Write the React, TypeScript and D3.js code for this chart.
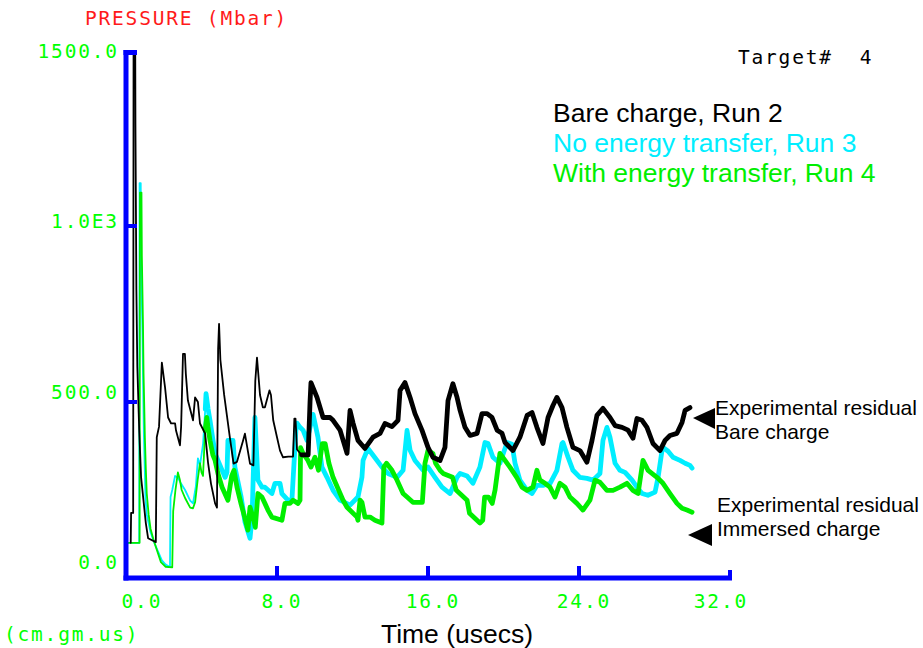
import React from 'react';
import * as d3 from 'd3';

// ---- data ----
const xTicks = [0, 8, 16, 24, 32];
const xTickLabels = ['0.0', '8.0', '16.0', '24.0', '32.0'];
const yTicks = [0, 500, 1000, 1500];
const yTickLabels = ['0.0', '500.0', '1.0E3', '1500.0'];
const legendLabels = ['Bare charge, Run 2', 'No energy transfer, Run 3', 'With energy transfer, Run 4'];
const annotationLines = [
  ['Experimental residual', 'Bare charge'],
  ['Experimental residual', 'Immersed charge'],
];

// [time (usecs), pressure (Mbar)]
const bareRun2: [number, number][] = [
  [0.25,100],[0.27,185],[0.38,185],[0.40,1490],[0.49,1490],[0.50,1290],[0.55,820],[0.60,600],[0.70,420],[0.80,286],
  [1.05,156],[1.17,113],[1.58,102],[1.63,400],[1.75,430],[1.90,612],[2.07,541],[2.23,456],[2.39,439],[2.60,439],
  [2.65,419],[2.86,377],[2.92,430],[3.02,637],[3.12,637],[3.17,580],[3.28,504],[3.55,448],[3.66,513],[3.81,500],
  [3.92,439],[4.19,411],[4.35,326],[4.50,269],[4.72,212],[4.82,200],[4.88,650],[4.93,722],[5.00,620],[5.20,520],
  [5.50,400],[5.70,325],[5.88,330],[6.20,390],[6.30,410],[6.57,325],[6.75,320],[6.85,560],[6.94,626],[7.10,520],
  [7.25,485],[7.36,485],[7.60,533],[7.68,520],[7.80,448],[8.00,400],[8.16,362],[8.32,343],[8.60,345],[8.85,345],
  [8.92,453],[8.98,453],[9.06,365],[9.30,350],[9.65,350],[9.75,500],[9.80,555],[10.12,513],[10.44,456],[10.81,456],
  [10.97,448],[11.34,420],[11.71,354],[11.87,476],[12.03,440],[12.29,391],[12.66,368],[13.09,400],[13.46,411],[13.72,439],
  [14.09,430],[14.41,448],[14.52,533],[14.78,555],[15.05,513],[15.31,467],[15.68,420],[16.00,371],[16.26,343],[16.64,334],
  [16.90,371],[17.06,504],[17.32,552],[17.54,513],[17.70,476],[17.96,428],[18.23,405],[18.60,411],[18.86,467],[19.13,467],
  [19.39,456],[19.66,420],[19.92,411],[20.08,385],[20.50,362],[20.87,400],[21.25,462],[21.51,470],[21.77,428],[22.09,382],
  [22.36,456],[22.62,490],[22.83,513],[23.10,484],[23.36,428],[23.68,371],[24.05,362],[24.42,329],[24.69,391],[24.95,462],
  [25.27,482],[25.64,456],[25.91,433],[26.28,428],[26.60,420],[26.86,397],[27.07,453],[27.34,448],[27.60,428],[27.92,382],
  [28.29,362],[28.56,391],[28.82,405],[29.19,411],[29.46,442],[29.62,476],[29.88,484],
];

const noTransferRun3: [number, number][] = [
  [0,100],[0.70,100],[0.72,1122],[0.78,1122],[0.80,900],[0.87,700],[0.92,500],[0.95,400],[1.00,300],[1.03,230],
  [1.10,180],[1.30,130],[1.50,100],[1.70,75],[1.90,50],[2.10,38],[2.33,31],[2.36,230],[2.45,250],[2.60,290],
  [2.75,285],[2.90,270],[3.13,250],[3.40,220],[3.55,212],[3.70,260],[3.81,340],[3.92,320],[4.08,380],[4.20,480],
  [4.24,524],[4.35,480],[4.45,448],[4.61,391],[4.72,354],[4.87,334],[5.25,286],[5.35,300],[5.40,391],[5.67,391],
  [5.77,315],[6.10,230],[6.30,160],[6.57,113],[6.68,173],[6.83,456],[6.99,278],[7.21,258],[7.36,258],[7.73,240],
  [7.89,269],[8.16,269],[8.26,240],[8.58,221],[8.79,221],[9.00,419],[9.06,440],[9.22,428],[9.38,420],[9.59,391],
  [9.91,465],[10.17,400],[10.38,315],[10.65,286],[10.97,249],[11.34,221],[11.87,207],[12.29,230],[12.50,286],[12.56,334],
  [12.82,368],[13.03,353],[13.30,334],[13.56,315],[13.88,297],[14.36,286],[14.68,306],[14.89,419],[15.05,363],[15.31,334],
  [15.74,306],[16.00,315],[16.37,286],[16.74,258],[17.17,240],[17.54,286],[17.70,297],[18.07,290],[18.38,269],[18.75,315],
  [19.02,385],[19.18,382],[19.44,343],[19.81,326],[20.19,385],[20.45,380],[20.61,326],[20.87,278],[21.25,249],[21.51,240],
  [21.77,263],[22.09,263],[22.47,269],[22.83,306],[23.10,382],[23.15,385],[23.42,343],[23.68,306],[24.05,286],[24.42,283],
  [24.74,278],[25.11,297],[25.27,391],[25.48,428],[25.64,400],[25.91,326],[26.17,306],[26.44,300],[26.81,278],[27.07,258],
  [27.34,240],[27.65,235],[28.03,244],[28.19,286],[28.40,363],[28.45,371],[28.72,360],[28.98,343],[29.35,334],[29.62,326],
  [29.88,320],[29.99,312],
];

const withTransferRun4: [number, number][] = [
  [0,100],[0.72,100],[0.74,1095],[0.82,1095],[0.84,915],[0.90,720],[0.93,580],[0.97,480],[1.00,400],[1.05,310],
  [1.10,240],[1.20,180],[1.30,140],[1.45,110],[1.60,85],[1.85,45],[2.10,32],[2.45,30],[2.50,190],[2.62,250],
  [2.75,300],[2.85,280],[2.95,250],[3.15,225],[3.40,200],[3.55,198],[3.66,215],[3.80,280],[3.92,326],[4.00,300],
  [4.08,290],[4.19,419],[4.28,456],[4.34,430],[4.45,391],[4.60,350],[4.72,334],[4.87,297],[5.09,258],[5.40,221],
  [5.60,290],[5.72,306],[5.88,258],[6.10,210],[6.30,170],[6.46,136],[6.57,201],[6.73,173],[6.85,144],[6.99,240],
  [7.20,230],[7.36,212],[7.52,193],[7.73,173],[8.26,164],[8.42,212],[8.69,212],[8.85,221],[9.11,212],[9.22,221],
  [9.25,370],[9.38,354],[9.64,334],[9.80,315],[10.01,343],[10.20,306],[10.40,382],[10.55,382],[10.75,326],[10.97,286],
  [11.20,258],[11.50,221],[11.71,201],[12.24,173],[12.29,164],[12.40,221],[12.50,215],[12.66,173],[12.93,173],[13.19,164],
  [13.56,156],[13.66,315],[13.80,326],[14.09,306],[14.36,278],[14.68,240],[14.89,230],[15.20,215],[15.70,215],[15.84,326],
  [16.00,363],[16.26,354],[16.40,326],[16.64,306],[16.80,297],[17.30,286],[17.50,249],[18.07,221],[18.20,184],[18.75,156],
  [18.90,164],[19.00,230],[19.20,230],[19.40,212],[19.55,249],[19.81,354],[20.08,334],[20.34,315],[20.70,286],[20.98,258],
  [21.25,249],[21.56,258],[21.77,306],[21.93,278],[22.20,269],[22.46,258],[22.73,230],[22.99,269],[23.26,258],[23.52,230],
  [23.89,212],[24.21,193],[24.58,221],[24.85,278],[25.11,272],[25.48,249],[25.80,249],[26.17,258],[26.54,269],[26.86,249],
  [27.13,240],[27.39,334],[27.66,306],[28.13,286],[28.45,269],[28.82,240],[29.19,212],[29.46,198],[29.72,193],[29.99,187],
];

// ---- layout / style ----
const W = 923;
const H = 648;
const BLUE = '#0000ff';
const TICKGREEN = '#00ff00';
const C_BLACK = '#000000';
const C_CYAN = '#00eeff';
const C_GREEN = '#00ee00';
const MONO = '"DejaVu Sans Mono", monospace';
const SANS = '"Liberation Sans", Arial, Helvetica, sans-serif';

const x = d3.scaleLinear().domain([0, 32]).range([126, 730]);
const y = d3.scaleLinear().domain([0, 1500]).range([578, 50]);
const yLabelBase = d3.scaleLinear().domain([0, 1500]).range([569, 58]);

const line = d3
  .line<[number, number]>()
  .x((d) => x(d[0]))
  .y((d) => y(d[1]));

function split(data: [number, number][], tSwitch: number) {
  let idx = data.findIndex((d) => d[0] > tSwitch);
  if (idx < 0) idx = data.length;
  const thin = data.slice(0, Math.min(idx + 1, data.length));
  const thick = data.slice(Math.max(idx - 1, 0));
  return { thin, thick };
}

const series = [
  { data: noTransferRun3, color: C_CYAN, tSwitch: 4.2 },
  { data: withTransferRun4, color: C_GREEN, tSwitch: 4.2 },
  { data: bareRun2, color: C_BLACK, tSwitch: 9.3 },
];

const MONO_SIZE = 19.5;
const MONO_SP = 1.8;

export default function App() {
  const x0 = x(0);
  const y0 = y(0);
  return (
    <svg
      width={W}
      height={H}
      viewBox={`0 0 ${W} ${H}`}
      style={{ position: 'fixed', left: 0, top: 0, background: '#fff' }}
    >
      <rect x={0} y={0} width={W} height={H} fill="#fff" />

      {/* axis title */}
      <text x={85} y={25} fontFamily={MONO} fontSize={MONO_SIZE} letterSpacing={MONO_SP} fill="#ff1a1a">
        PRESSURE (Mbar)
      </text>
      <text
        x={738}
        y={64}
        fontFamily={MONO}
        fontSize={MONO_SIZE}
        letterSpacing={MONO_SP}
        fill="#000"
        style={{ whiteSpace: 'pre' }}
      >
        {'Target#  4'}
      </text>

      {/* series */}
      {series.map((s, i) => {
        const { thin, thick } = split(s.data, s.tSwitch);
        return (
          <g key={i} fill="none" stroke={s.color} strokeLinejoin="round" strokeLinecap="round">
            <path d={line(thin) || ''} strokeWidth={1.8} />
            <path d={line(thick) || ''} strokeWidth={4.8} />
          </g>
        );
      })}

      {/* axes */}
      <g stroke={BLUE} fill="none">
        <line x1={x0} x2={x0} y1={y(1500)} y2={y0 + 2.5} strokeWidth={5} />
        <line x1={x0 - 2.5} x2={x(32) + 2} y1={y0} y2={y0} strokeWidth={5} />
        <line x1={x0 - 2.5} x2={x0 + 11} y1={y(1500) + 2.5} y2={y(1500) + 2.5} strokeWidth={5} />
        {yTicks
          .filter((v) => v > 0 && v < 1500)
          .map((v) => (
            <line key={v} x1={x0} x2={x0 + 11} y1={y(v)} y2={y(v)} strokeWidth={4} />
          ))}
        {xTicks
          .filter((v) => v > 0)
          .map((v) => (
            <line key={v} x1={x(v)} x2={x(v)} y1={y0} y2={v === 32 ? y0 - 8 : y0 - 12} strokeWidth={4} />
          ))}
      </g>

      {/* y tick labels */}
      {yTicks.map((v, i) => (
        <text
          key={v}
          x={117 + MONO_SP}
          y={yLabelBase(v)}
          textAnchor="end"
          fontFamily={MONO}
          fontSize={MONO_SIZE}
          letterSpacing={MONO_SP}
          fill={TICKGREEN}
        >
          {yTickLabels[i]}
        </text>
      ))}

      {/* x tick labels */}
      {xTicks.map((v, i) => {
        const cx = Math.min(Math.max(x(v) + 4, x(0) + 15), x(32) - 10);
        return (
          <text
            key={v}
            x={cx + MONO_SP / 2}
            y={608}
            textAnchor="middle"
            fontFamily={MONO}
            fontSize={MONO_SIZE}
            letterSpacing={MONO_SP}
            fill={TICKGREEN}
          >
            {xTickLabels[i]}
          </text>
        );
      })}

      <text x={4} y={641} fontFamily={MONO} fontSize={MONO_SIZE} letterSpacing={MONO_SP} fill={TICKGREEN}>
        (cm.gm.us)
      </text>

      <text x={457} y={643} textAnchor="middle" fontFamily={SANS} fontSize={26.5} fill="#000">
        Time (usecs)
      </text>

      {/* legend */}
      {legendLabels.map((t, i) => (
        <text
          key={t}
          x={553}
          y={122 + i * 30}
          fontFamily={SANS}
          fontSize={26.5}
          fill={[C_BLACK, C_CYAN, C_GREEN][i]}
        >
          {t}
        </text>
      ))}

      {/* annotations */}
      {annotationLines.map((lines, i) => (
        <g key={i}>
          {lines.map((t, j) => (
            <text key={j} x={715 + i * 2} y={[415, 512][i] + j * 24} fontFamily={SANS} fontSize={21} fill="#000">
              {t}
            </text>
          ))}
        </g>
      ))}
      <path d="M693,418 L715,408 L715,429 Z" fill="#000" />
      <path d="M688,535 L712,524 L712,546 Z" fill="#000" />
    </svg>
  );
}
